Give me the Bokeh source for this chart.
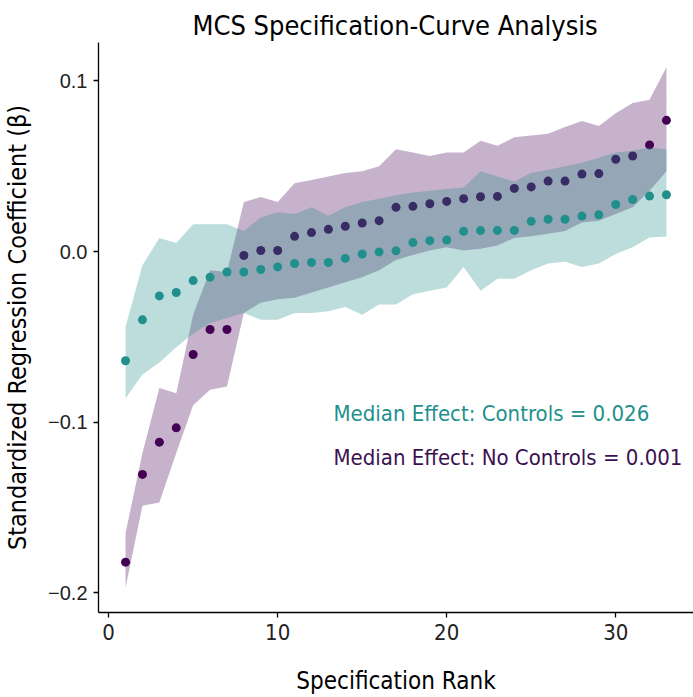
from bokeh.plotting import figure
from bokeh.models import Range1d, FixedTicker, Label
from bokeh.embed import file_html
from bokeh.resources import INLINE

rank = list(range(1, 34))

# Controls (teal)
ctrl_est = [-0.064, -0.040, -0.026, -0.024, -0.017, -0.015, -0.012, -0.012, -0.0105, -0.009,
            -0.007, -0.0064, -0.0064, -0.004, -0.0014, -0.0002, 0.0004, 0.0053, 0.0064, 0.0068,
            0.0119, 0.0123, 0.0124, 0.0124, 0.0177, 0.0189, 0.0189, 0.0208, 0.0216, 0.0276,
            0.0305, 0.0325, 0.0333]
ctrl_lo = [-0.086, -0.072, -0.065, -0.056, -0.048, -0.042, -0.039, -0.036, -0.040, -0.040,
           -0.036, -0.036, -0.035, -0.0325, -0.037, -0.031, -0.031, -0.025, -0.023, -0.021,
           -0.009, -0.023, -0.016, -0.016, -0.011, -0.007, -0.006, -0.009, -0.007, -0.0014,
           0.0025, 0.0083, 0.0088]
ctrl_hi = [-0.044, -0.008, 0.008, 0.005, 0.016, 0.016, 0.016, 0.012, 0.020, 0.023,
           0.022, 0.026, 0.021, 0.026, 0.029, 0.031, 0.033, 0.0346, 0.0356, 0.0366,
           0.0375, 0.047, 0.044, 0.041, 0.046, 0.048, 0.050, 0.052, 0.055, 0.058,
           0.059, 0.061, 0.060]

# No controls (purple)
noctrl_est = [-0.182, -0.1306, -0.1117, -0.1033, -0.0603, -0.0457, -0.0457, -0.0023, 0.0006, 0.0006,
              0.0089, 0.0111, 0.013, 0.0148, 0.0167, 0.0181, 0.0259, 0.0265, 0.028, 0.0294,
              0.031, 0.0321, 0.0323, 0.037, 0.0379, 0.0413, 0.0413, 0.0454, 0.0457, 0.0541,
              0.056, 0.0625, 0.0769]
noctrl_lo = [-0.197, -0.149, -0.147, -0.118, -0.090, -0.081, -0.079, -0.036, -0.030, -0.028,
             -0.027, -0.024, -0.021, -0.018, -0.015, -0.011, -0.005, -0.002, 0.0006, 0.0025,
             0.0006, 0.0016, 0.0035, 0.008, 0.009, 0.0105, 0.012, 0.017, 0.018, 0.022,
             0.026, 0.0356, 0.047]
noctrl_hi = [-0.165, -0.118, -0.080, -0.083, -0.037, -0.011, -0.012, 0.029, 0.032, 0.029,
             0.040, 0.042, 0.044, 0.046, 0.047, 0.050, 0.060, 0.058, 0.056, 0.058,
             0.058, 0.065, 0.062, 0.067, 0.068, 0.069, 0.073, 0.0765, 0.0736, 0.081,
             0.087, 0.089, 0.108]

x_ticks = [0, 10, 20, 30]
y_ticks = [-0.2, -0.1, 0.0, 0.1]
y_tick_labels = ["\u22120.2", "\u22120.1", "0.0", "0.1"]

TEAL = "#21908C"
PURPLE = "#440154"
NARROW = "'DejaVu Sans Condensed', 'Liberation Sans Narrow', 'Noto Sans', sans-serif"

p = figure(width=693, height=697, output_backend="svg", toolbar_location=None,
           x_range=Range1d(-0.6, 34.6), y_range=Range1d(-0.2115, 0.1225),
           min_border_left=98, min_border_right=0, min_border_top=42, min_border_bottom=84)

p.title.text = "MCS Specification-Curve Analysis"
p.title.align = "left"
p.title.offset = 94
p.title.standoff = 0
p.title.vertical_align = "top"
p.title.text_font = NARROW
p.title.text_font_size = "27px"
p.title.text_font_style = "normal"
p.title.text_color = "black"

p.varea(x=rank, y1=noctrl_lo, y2=noctrl_hi, fill_color=PURPLE, fill_alpha=0.3)
p.scatter(x=rank, y=noctrl_est, size=9, fill_color=PURPLE, line_color=None)
p.varea(x=rank, y1=ctrl_lo, y2=ctrl_hi, fill_color=TEAL, fill_alpha=0.3)
p.scatter(x=rank, y=ctrl_est, size=9, fill_color=TEAL, line_color=None)

p.xgrid.visible = False
p.ygrid.visible = False
p.outline_line_color = None
p.background_fill_color = "white"
p.border_fill_color = "white"

p.xaxis.ticker = FixedTicker(ticks=x_ticks)
p.yaxis.ticker = FixedTicker(ticks=y_ticks)
p.yaxis.major_label_overrides = {t: l for t, l in zip(y_ticks, y_tick_labels)}

for ax in (p.xaxis[0], p.yaxis[0]):
    ax.axis_line_color = "black"
    ax.axis_line_width = 1.3
    ax.major_tick_line_color = "black"
    ax.major_tick_line_width = 1.3
    ax.major_tick_out = 5
    ax.major_tick_in = 0
    ax.minor_tick_line_color = None
    ax.major_label_text_color = "#222222"
    ax.axis_label_text_color = "black"
    ax.axis_label_text_font = NARROW
    ax.axis_label_text_font_style = "normal"

p.xaxis.axis_label = "Specification Rank"
p.yaxis.axis_label = "Standardized Regression Coefficient (\u03b2)"
p.xaxis.axis_label_text_font_size = "24px"
p.yaxis.axis_label_text_font_size = "25px"
p.xaxis.major_label_text_font = NARROW
p.xaxis.major_label_text_font_size = "22px"
p.yaxis.major_label_text_font = "Liberation Sans"
p.yaxis.major_label_text_font_size = "20px"
p.xaxis.major_label_standoff = 6
p.yaxis.major_label_standoff = 6
p.xaxis.axis_label_standoff = 24
p.yaxis.axis_label_standoff = 13

p.add_layout(Label(x=13.3, y=-0.0946, text="Median Effect: Controls = 0.026",
                   text_color=TEAL, text_font=NARROW, text_font_size="22px",
                   text_baseline="middle", text_align="left"))
p.add_layout(Label(x=13.3, y=-0.1208, text="Median Effect: No Controls = 0.001",
                   text_color="#3d1150", text_font=NARROW, text_font_size="22px",
                   text_baseline="middle", text_align="left"))

open("out.html", "w").write(file_html(p, INLINE))
